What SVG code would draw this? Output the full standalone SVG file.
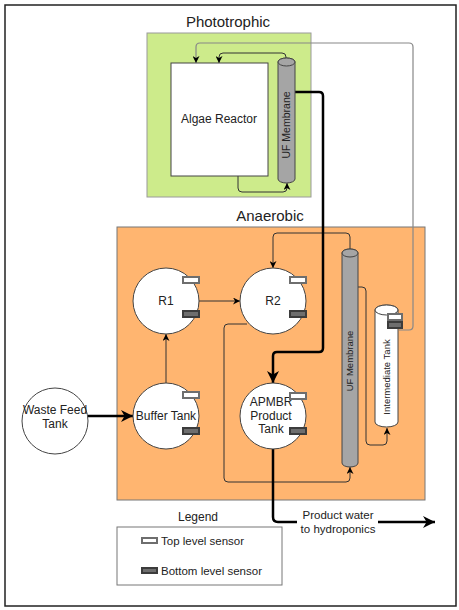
<svg xmlns="http://www.w3.org/2000/svg" width="459" height="610" viewBox="0 0 459 610">
<defs>
<style>
text{font-family:"Liberation Sans",Arial,sans-serif;fill:#222}
.lbl{font-size:12px;text-anchor:middle}
.pw{font-size:11.5px;text-anchor:middle}
.title{font-size:15px;text-anchor:middle}
.mem{font-size:9.5px;text-anchor:middle}
.leg{font-size:11.5px}
.c{fill:none;stroke:#333;stroke-width:1}
.g{fill:none;stroke:#888;stroke-width:1.2}
.k{fill:none;stroke:#000;stroke-width:2.5}
.tank{fill:#fff;stroke:#444;stroke-width:1}
.st{fill:#fff;stroke:#6e6e6e;stroke-width:2}
.sb{fill:#6e6e6e;stroke:#3c3c3c;stroke-width:2}
.cyl{fill:#a5a5a5;stroke:#444;stroke-width:1}
</style>
<marker id="a" viewBox="0 0 10 10" refX="10" refY="5" markerWidth="7" markerHeight="7" markerUnits="userSpaceOnUse" orient="auto"><path d="M0,0 L10,5 L0,10 L3,5 z" fill="#000"/></marker>
<marker id="ak" viewBox="0 0 10 10" refX="10" refY="5" markerWidth="12" markerHeight="12" markerUnits="userSpaceOnUse" orient="auto"><path d="M0,0 L10,5 L0,10 L3,5 z" fill="#000"/></marker>
</defs>
<rect x="5" y="5" width="451" height="601" fill="#fff" stroke="#222" stroke-width="1.5"/>

<g id="phototrophic">
<rect x="147" y="33" width="164" height="164" fill="#cdeb8b" stroke="#9a9a9a" stroke-width="1"/>
<text class="title" x="228" y="27">Phototrophic</text>
</g>
<g id="anaerobic">
<rect x="117" y="227" width="308" height="273" fill="#ffb570" stroke="#777" stroke-width="1"/>
<text class="title" x="270" y="221">Anaerobic</text>
</g>

<g id="connectors">
<path class="c" d="M286,58 L286,57 Q286,53 282,53 L223,53 Q219,53 219,57 L219,63" marker-end="url(#a)"/>
<path class="g" d="M399,330 L409,330 Q413,330 413,326 L413,47 Q413,43 409,43 L200,43 Q196,43 196,47 L196,63" marker-end="url(#a)"/>
<path class="c" d="M238,176 L238,188 Q238,192 242,192 L283,192 Q287,192 287,188 L287,183" marker-end="url(#a)"/>
<path class="c" d="M350,250 L350,237 Q350,233 346,233 L277,233 Q273,233 273,237 L273,268" marker-end="url(#a)"/>
<path class="c" d="M247,324 L228,324 Q224,324 224,328 L224,478 Q224,482 228,482 L346,482 Q350,482 350,478 L350,467" marker-end="url(#a)"/>
<path class="c" d="M358,287 L362,287 Q366,287 366,291 L366,441 Q366,445 370,445 L383,445 Q387,445 387,441 L387,428" marker-end="url(#a)"/>
<path class="c" d="M199,301 L240,301" marker-end="url(#a)"/>
<path class="c" d="M166,383 L166,334" marker-end="url(#a)"/>
<path class="k" d="M295,92 L319,92 Q323,92 323,96 L323,348 Q323,352 319,352 L277,352 Q273,352 273,356 L273,383" marker-end="url(#ak)"/>
<path class="k" d="M88,416 L133,416" marker-end="url(#ak)"/>
<path class="k" d="M273,449 L273,517 Q273,522 278,522 L435,522" marker-end="url(#ak)"/>
<rect x="297" y="505" width="81" height="30" fill="#fff"/>
<text class="pw" x="338" y="519">Product water</text>
<text class="pw" x="338" y="533">to hydroponics</text>
</g>

<g id="algae-reactor">
<rect x="171" y="63" width="97" height="113" fill="#fff" stroke="#444" stroke-width="1"/>
<text class="lbl" x="219" y="123">Algae Reactor</text>
</g>
<g id="uf-membrane-photo">
<path class="cyl" d="M278,62 L278,179 A8.5,4 0 0 0 295,179 L295,62 A8.5,4 0 0 0 278,62 z"/>
<ellipse cx="286.5" cy="62" rx="8.5" ry="4" class="cyl"/>
<text class="mem" style="font-size:10.5px" transform="translate(290,125) rotate(-90)">UF Membrane</text>
</g>

<g id="waste-feed-tank">
<circle cx="55" cy="421" r="33" class="tank"/>
<text class="lbl" x="55" y="414">Waste Feed</text>
<text class="lbl" x="55" y="428">Tank</text>
</g>
<g id="r1">
<circle cx="166" cy="301" r="33" class="tank"/>
<text class="lbl" x="166" y="305">R1</text>
<rect class="st" x="183" y="277" width="16" height="6"/>
<rect class="sb" x="183" y="311" width="16" height="6"/>
</g>
<g id="r2">
<circle cx="273" cy="301" r="33" class="tank"/>
<text class="lbl" x="273" y="305">R2</text>
<rect class="st" x="290" y="277" width="16" height="6"/>
<rect class="sb" x="290" y="311" width="16" height="6"/>
</g>
<g id="buffer-tank">
<circle cx="166" cy="416" r="33" class="tank"/>
<text class="lbl" x="166" y="420">Buffer Tank</text>
<rect class="st" x="183" y="392" width="16" height="6"/>
<rect class="sb" x="183" y="428" width="16" height="6"/>
</g>
<g id="apmbr-product-tank">
<circle cx="273" cy="416" r="33" class="tank"/>
<text class="lbl" x="271" y="406">APMBR</text>
<text class="lbl" x="271" y="420">Product</text>
<text class="lbl" x="271" y="433">Tank</text>
<rect class="st" x="290" y="393" width="16" height="6"/>
<rect class="sb" x="290" y="428" width="16" height="6"/>
</g>
<g id="uf-membrane-anaerobic">
<path class="cyl" d="M342,253 L342,463 A8,4 0 0 0 358,463 L358,253 A8,4 0 0 0 342,253 z"/>
<ellipse cx="350" cy="253" rx="8" ry="4" class="cyl"/>
<text class="mem" transform="translate(353,361) rotate(-90)">UF Membrane</text>
</g>
<g id="intermediate-tank">
<path class="tank" d="M375,310 L375,422 A11.5,5 0 0 0 398,422 L398,310 A11.5,5 0 0 0 375,310 z"/>
<ellipse cx="386.5" cy="310" rx="11.5" ry="5" class="tank"/>
<rect class="st" x="388" y="314" width="14" height="6"/>
<rect class="sb" x="388" y="322" width="14" height="6"/>
<text class="mem" transform="translate(390,377) rotate(-90)">Intermediate Tank</text>
</g>

<g id="legend">
<text class="lbl" x="198" y="521">Legend</text>
<rect x="117" y="527" width="165" height="58" fill="#fff" stroke="#777" stroke-width="1"/>
<rect class="st" x="142" y="538" width="15" height="5"/>
<text class="leg" x="161" y="545">Top level sensor</text>
<rect class="sb" x="142" y="568" width="15" height="5"/>
<text class="leg" x="161" y="575">Bottom level sensor</text>
</g>
</svg>
